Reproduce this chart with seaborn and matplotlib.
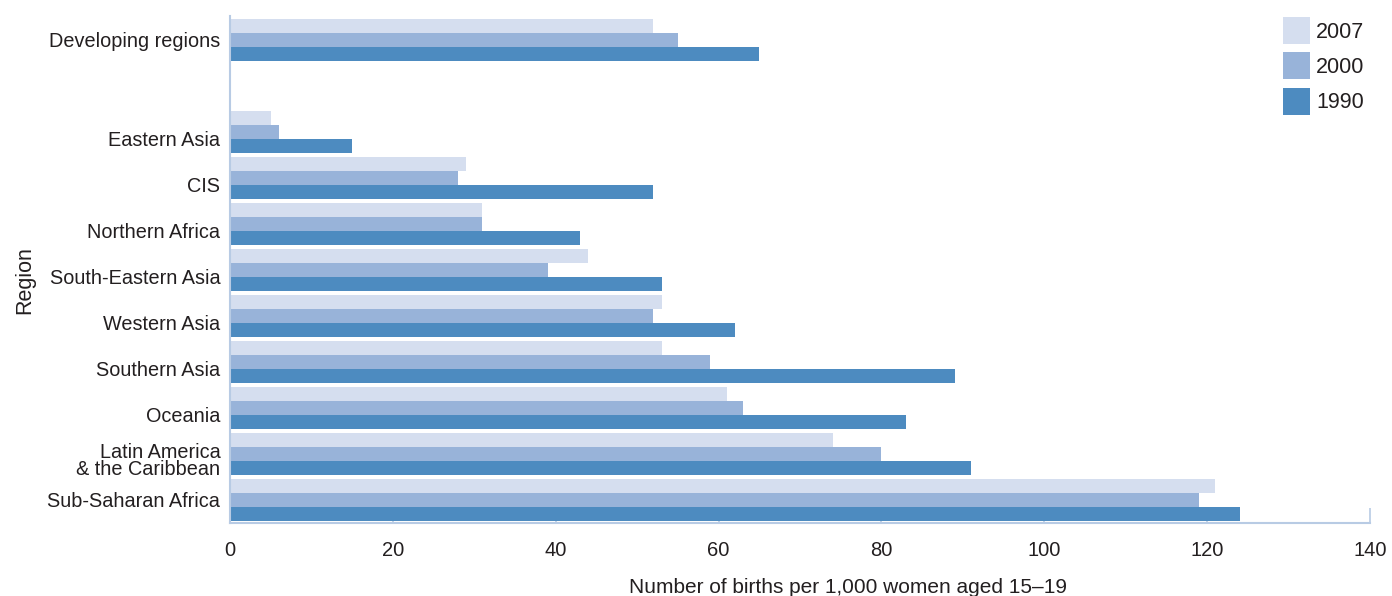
import matplotlib
matplotlib.use("Agg")
import matplotlib.pyplot as plt
import seaborn as sns
import pandas as pd

regions = ["Developing regions", " ", "Eastern Asia", "CIS", "Northern Africa",
           "South-Eastern Asia", "Western Asia", "Southern Asia", "Oceania",
           "Latin America\n& the Caribbean", "Sub-Saharan Africa"]
data_regions = [r for r in regions if r.strip()]
years = ["2007", "2000", "1990"]
v2007 = [52, 5, 29, 31, 44, 53, 53, 61, 74, 121]
v2000 = [55, 6, 28, 31, 39, 52, 59, 63, 80, 119]
v1990 = [65, 15, 52, 43, 53, 62, 89, 83, 91, 124]
colors = ["#d5deef", "#98b3d9", "#4d8bc0"]
xticks = [0, 20, 40, 60, 80, 100, 120, 140]
# small vertical offsets of the region labels, as in the reference
label_shift = [0, 0, 0.15, 0.15, 0.15, 0.15, 0.15, 0.15, 0.15, 0.13, 0]

rows = []
for yr, vals in zip(years, [v2007, v2000, v1990]):
    for r, v in zip(data_regions, vals):
        rows.append({"Region": r, "Year": yr, "Value": v})
df = pd.DataFrame(rows)

sns.set_theme(style="white")
plt.rcParams["font.family"] = ["Liberation Sans", "DejaVu Sans"]
txt_c = "#231f20"

fig = plt.figure(figsize=(13.92, 5.96), dpi=100)
ax = fig.add_axes([230/1392, 1 - 523/596, 1140/1392, 507/596])

sns.barplot(data=df, y="Region", x="Value", hue="Year", order=regions,
            hue_order=years, palette=colors, width=0.9, orient="h",
            saturation=1, ax=ax, errorbar=None, linewidth=0)

ax.set_xlim(0, 140)
ax.set_ylim(10.5, -0.52)
ax.set_xticks(xticks)
ax.set_xticklabels([str(t) for t in xticks])
ax.set_yticks([i + s for i, s in enumerate(label_shift)])
ax.set_yticklabels(regions)

spine_c = "#b8cbe4"
for s in ["top", "right"]:
    ax.spines[s].set_visible(False)
for s in ["left", "bottom"]:
    ax.spines[s].set_color(spine_c)
    ax.spines[s].set_linewidth(1.5)
ax.tick_params(axis="x", direction="in", length=3, width=1.2, color=spine_c,
               labelsize=14.5, labelcolor=txt_c, pad=13, bottom=True)
ax.tick_params(axis="y", length=0, labelsize=14.3, labelcolor=txt_c, pad=7)
ax.xaxis.get_major_ticks()[-1].tick1line.set_markersize(11)
for lab in ax.get_yticklabels():
    lab.set_multialignment("right")
    lab.set_linespacing(0.9)

ax.set_ylabel("Region", fontsize=15.5, color=txt_c)
ax.yaxis.label.set_va("center")
ax.yaxis.set_label_coords((25 - 230) / 1140, (523 - 280) / 507)
ax.set_xlabel("Number of births per 1,000 women aged 15\u201319", fontsize=15,
              color=txt_c)
ax.xaxis.label.set_va("top")
ax.xaxis.set_label_coords((848 - 230) / 1140, (523 - 578) / 507)

leg = ax.legend(loc="upper left", bbox_to_anchor=((1283 - 230) / 1140, (523 - 17) / 507),
                frameon=False, fontsize=15.5, handlelength=1.25, handleheight=1.55,
                labelspacing=0.39, handletextpad=0.3, borderaxespad=0, borderpad=0)
for t in leg.get_texts():
    t.set_color(txt_c)

fig.savefig("out.png", dpi=100)
